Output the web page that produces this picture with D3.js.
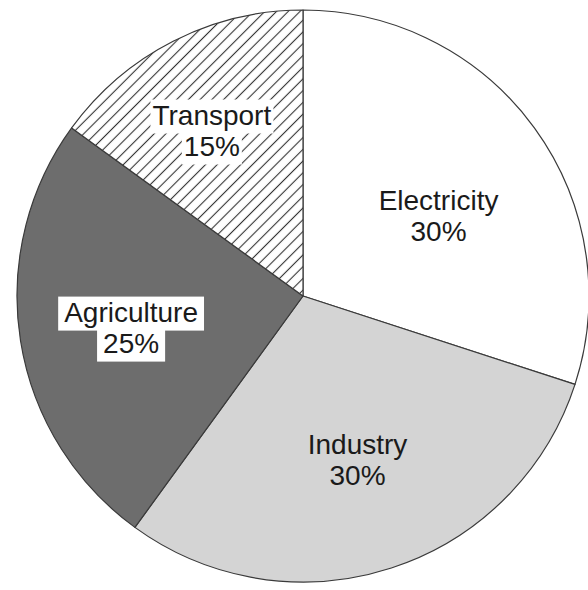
<!DOCTYPE html>
<html>
<head>
<meta charset="utf-8">
<script src="https://cdn.jsdelivr.net/npm/d3@7"></script>
<style>
  html, body { margin: 0; padding: 0; background: #fff; }
  svg { display: block; }
</style>
</head>
<body>
<svg id="chart" width="588" height="590"></svg>
<script>
// ---- data ----
const categories = ["Electricity", "Industry", "Agriculture", "Transport"];
const values = [30, 30, 25, 15];
const percentLabels = ["30%", "30%", "25%", "15%"];

// ---- styles ----
const fills = {
  "Electricity": "#ffffff",
  "Industry": "#d4d4d4",
  "Agriculture": "#6d6d6d",
  "Transport": "url(#hatch)"
};
const boxed = { "Agriculture": 6, "Transport": 2 };
const labelNudge = {
  "Electricity": [-2, 20],
  "Industry": [2, 2],
  "Agriculture": [-4, 5],
  "Transport": [-14, -14]
};

const svg = d3.select("#chart");
const cx = 303, cy = 296, R = 286, labelR = 170;

const defs = svg.append("defs");
const hs = 8.3;
const pat = defs.append("pattern")
  .attr("id", "hatch")
  .attr("patternUnits", "userSpaceOnUse")
  .attr("width", hs).attr("height", hs)
  .attr("patternTransform", "rotate(45)");
pat.append("rect").attr("width", hs).attr("height", hs).attr("fill", "#fff");
pat.append("line").attr("x1", hs / 2).attr("y1", -1).attr("x2", hs / 2).attr("y2", hs + 1)
  .attr("stroke", "#333").attr("stroke-width", 1.1);

const data = categories.map((c, i) => ({ cat: c, value: values[i], pct: percentLabels[i] }));
const pie = d3.pie().sort(null).value(d => d.value);
const arcs = pie(data);
const arc = d3.arc().innerRadius(0).outerRadius(R);
const labelArc = d3.arc().innerRadius(labelR).outerRadius(labelR);

const g = svg.append("g").attr("transform", `translate(${cx},${cy})`);

g.selectAll("path.slice")
  .data(arcs)
  .join("path")
  .attr("class", "slice")
  .attr("d", arc)
  .attr("fill", d => fills[d.data.cat])
  .attr("stroke", "#3a3a3a")
  .attr("stroke-width", 1.2)
  .attr("stroke-linejoin", "round");

const fontFamily = "'Liberation Sans', Arial, Helvetica, sans-serif";
const fontSize = 28;

arcs.forEach(d => {
  const [x0, y0] = labelArc.centroid(d);
  const nudge = labelNudge[d.data.cat] || [0, 0];
  const x = x0 + nudge[0], y = y0 + nudge[1];
  const lines = [d.data.cat, d.data.pct];
  const baselines = [y - 6, y + 25];
  const lg = g.append("g").attr("class", "label");
  const rectLayer = lg.append("g");
  lines.forEach((t, i) => {
    const txt = lg.append("text")
      .attr("x", x)
      .attr("y", baselines[i])
      .attr("text-anchor", "middle")
      .attr("font-family", fontFamily)
      .attr("font-size", fontSize)
      .attr("fill", "#1a1a1a")
      .text(t);
    if (boxed[d.data.cat] !== undefined) {
      const pad = boxed[d.data.cat];
      const bb = txt.node().getBBox();
      rectLayer.append("rect")
        .attr("x", bb.x - pad)
        .attr("y", bb.y)
        .attr("width", bb.width + 2 * pad)
        .attr("height", bb.height + 3)
        .attr("fill", "#fff");
    }
  });
});
</script>
</body>
</html>
